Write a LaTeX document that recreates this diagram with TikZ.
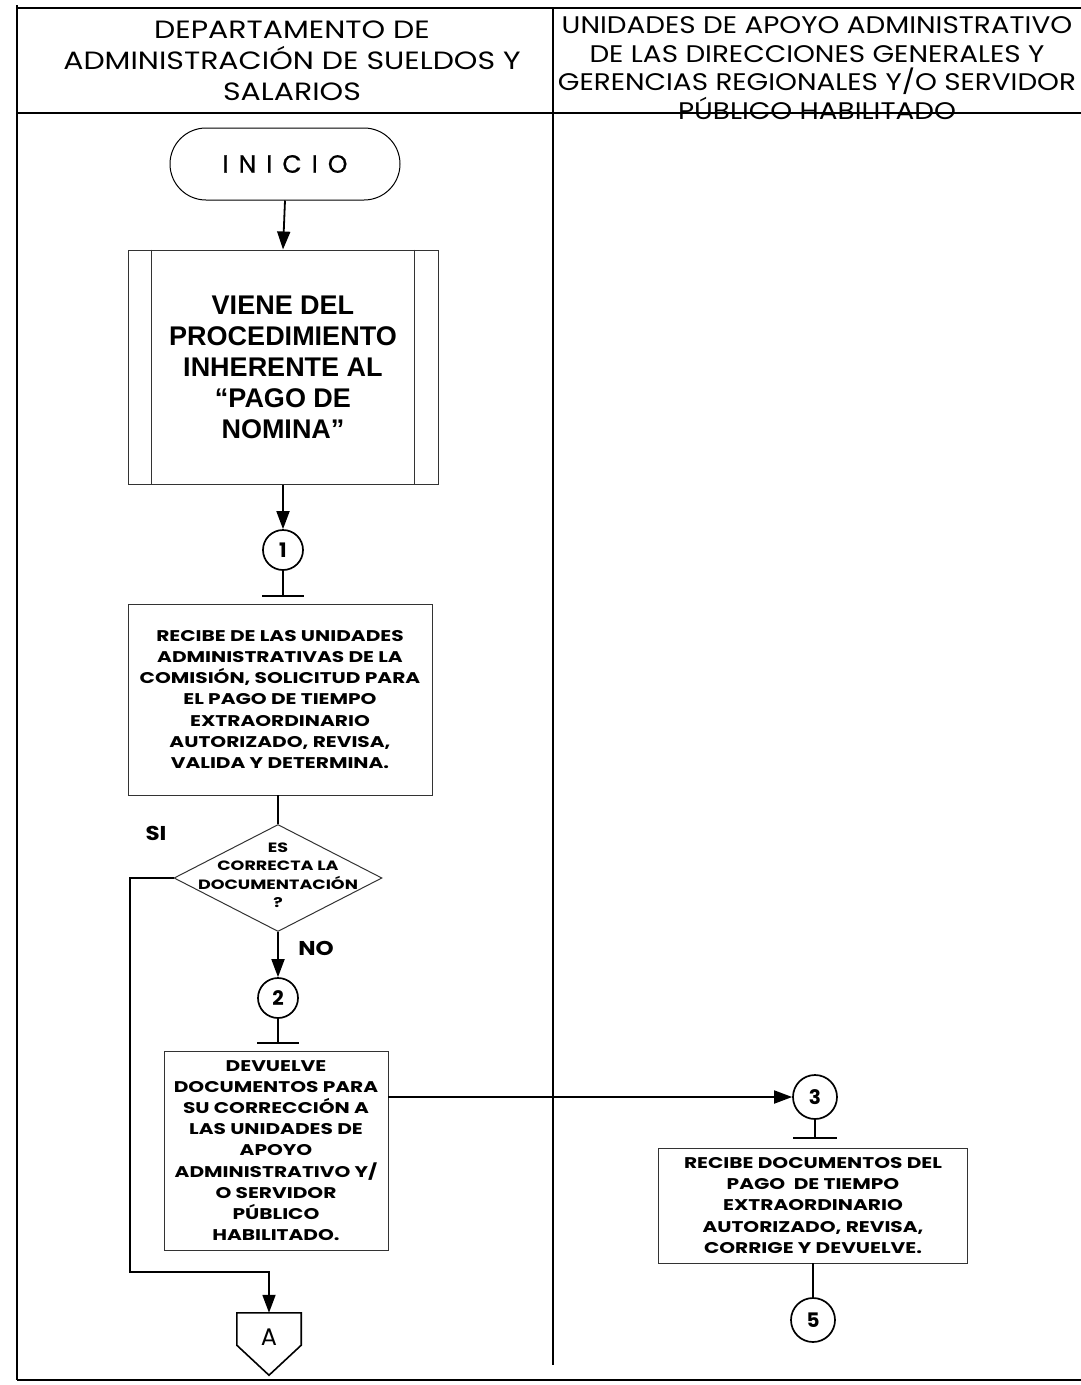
\documentclass[tikz,border=0pt]{standalone}
\usepackage{fontspec}
\setmainfont{Poppins}
\newfontfamily\arialfont{Liberation Sans}
\newfontfamily\boxfont[FakeStretch=1.3]{Poppins}
\newfontfamily\hdrfontL[FakeStretch=1.2]{Poppins}
\newfontfamily\hdrfontR[FakeStretch=1.16]{Poppins}
\newfontfamily\lblfont[FakeStretch=1.15]{Poppins}
\newfontfamily\inifont[LetterSpace=40,FakeBold=0.6]{Poppins}
\usetikzlibrary{shapes.geometric,arrows.meta,calc}
\begin{document}
\begin{tikzpicture}[x=1pt,y=-1pt,
  conline/.style={line width=1.8pt},
  arr/.style={line width=1.8pt,-{Triangle[length=18pt,width=13pt]}},
  frame/.style={line width=2.4pt},
  proc/.style={draw, draw=black!80, line width=0.9pt, align=center, inner sep=2pt,
     font=\boxfont\bfseries\fontsize{15.5}{21.2}\selectfont},
  conn/.style={circle, draw, line width=1.7pt, minimum size=40pt, inner sep=0pt,
     font=\bfseries\fontsize{20}{20}\selectfont},
  lbl/.style={font=\lblfont\bfseries\fontsize{20}{20}\selectfont}
]
\useasboundingbox (0,0) rectangle (1081,1385);
\fill[white] (0,0) rectangle (1081,1385);
% frame
\draw[frame] (17,8) -- (1081,8);
\draw[frame] (17,5) -- (17,1380);
\draw[frame] (17,1380) -- (1081,1380);
\draw[line width=2pt] (17,113) -- (1081,113);
\draw[line width=1.8pt] (553,8) -- (553,1365);
% headers
\node[align=center, font=\hdrfontL\fontsize{25}{31}\selectfont] (h1) at (292,61)
  {DEPARTAMENTO DE\\ADMINISTRACIÓN DE SUELDOS Y\\SALARIOS};
\node[align=center, font=\hdrfontR\fontsize{24}{28.5}\selectfont] (h2) at (817,68)
  {UNIDADES DE APOYO ADMINISTRATIVO\\DE LAS DIRECCIONES GENERALES Y\\GERENCIAS REGIONALES Y/O SERVIDOR\\PÚBLICO HABILITADO};
% start
\node[draw, line width=1pt, rounded corners=36pt, minimum width=230pt, minimum height=72pt,
  font=\inifont\fontsize{25}{25}\selectfont] (ini) at (285,164) {INICIO};
% predefined process
\node[draw, draw=black!80, line width=1pt, minimum width=310pt, minimum height=234pt, align=center,
  font=\arialfont\bfseries\fontsize{27}{31}\selectfont] (vd) at (283,367)
  {VIENE DEL\\PROCEDIMIENTO\\INHERENTE AL\\“PAGO DE\\NOMINA”};
\draw[line width=1pt, black!80] ($(vd.north west)+(24,0)$) -- ($(vd.south west)+(24,0)$);
\draw[line width=1pt, black!80] ($(vd.north east)+(-24,0)$) -- ($(vd.south east)+(-24,0)$);
\draw[arr] (ini.south) -- (vd.north);
% connector 1
\node[conn] (c1) at (283,550) {1};
\draw[arr] (vd.south) -- (c1.north);
\coordinate (t1) at (283,596);
\draw[conline] (c1.south) -- (t1);
\draw[conline] ($(t1)+(-21,0)$) -- ($(t1)+(21,0)$);
% process 1
\node[proc, minimum width=304pt, minimum height=191pt] (p1) at (280,699.5)
  {RECIBE DE LAS UNIDADES\\ADMINISTRATIVAS DE LA\\COMISIÓN, SOLICITUD PARA\\EL PAGO DE TIEMPO\\EXTRAORDINARIO\\AUTORIZADO, REVISA,\\VALIDA Y DETERMINA.};
% decision
\node[diamond, draw, draw=black!80, line width=1pt, minimum width=208pt, minimum height=107pt, inner sep=0pt] (dec) at (278,878) {};
\node[align=center, font=\boxfont\bfseries\fontsize{13.5}{18.5}\selectfont] (dect) at (278,875)
  {ES\\CORRECTA LA\\DOCUMENTACIÓN\\?};
\draw[conline] (p1.south -| dec.north) -- (dec.north);
\node[lbl] (si) at (156,833) {SI};
\node[lbl] (no) at (316,948) {NO};
% connector 2
\node[conn] (c2) at (278,998) {2};
\draw[arr] (dec.south) -- (c2.north);
\coordinate (t2) at (278,1043);
\draw[conline] (c2.south) -- (t2);
\draw[conline] ($(t2)+(-21,0)$) -- ($(t2)+(21,0)$);
% process 2
\node[proc, minimum width=224pt, minimum height=199pt] (p2) at (276,1150.5)
  {DEVUELVE\\DOCUMENTOS PARA\\SU CORRECCIÓN A\\LAS UNIDADES DE\\APOYO\\ADMINISTRATIVO Y/\\O SERVIDOR\\PÚBLICO\\HABILITADO.};
% connector 3
\node[conn, minimum size=44pt] (c3) at (815,1097) {3};
\draw[arr] (p2.east |- c3.west) -- (c3.west);
\coordinate (t3) at (815,1138);
\draw[conline] (c3.south) -- (t3);
\draw[conline] ($(t3)+(-22,0)$) -- ($(t3)+(22,0)$);
% process 3
\node[proc, minimum width=309pt, minimum height=115pt] (p3) at (813,1205.5)
  {RECIBE DOCUMENTOS DEL\\PAGO\ \ DE TIEMPO\\EXTRAORDINARIO\\AUTORIZADO, REVISA,\\CORRIGE Y DEVUELVE.};
% connector 5
\node[conn, minimum size=44pt] (c5) at (813,1320) {5};
\draw[conline] (p3.south -| c5.north) -- (c5.north);
% off-page connector A
\node[minimum width=64pt, minimum height=32pt, inner sep=0pt] (A) at (269,1329) {};
\draw[line width=1.6pt] (A.north west) -- (A.north east) -- (A.south east)
  -- ($(A.south)+(0,30)$) -- (A.south west) -- cycle;
\node[font=\fontsize{24}{24}\selectfont] (Alabel) at (269,1337) {A};
% SI path
\coordinate (sibend) at (130,1272);
\draw[arr] (dec.west) -| (sibend) -| (A.north);
\end{tikzpicture}
\end{document}
